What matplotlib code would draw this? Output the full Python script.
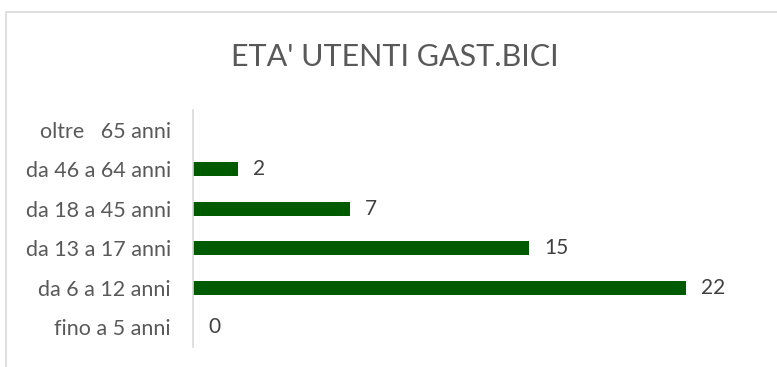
import numpy as np
import matplotlib.pyplot as plt
from matplotlib.patches import Rectangle

categories = ["fino a 5 anni", "da 6 a 12 anni", "da 13 a 17 anni",
              "da 18 a 45 anni", "da 46 a 64 anni", "oltre   65 anni"]
values = [0, 22, 15, 7, 2, np.nan]
title = "ETA' UTENTI GAST.BICI"

plt.rcParams['font.family'] = ['Lato', 'DejaVu Sans']

fig = plt.figure(figsize=(7.77, 3.67), dpi=100)
fig.patch.set_facecolor('white')

# chart frame
fig.patches.append(Rectangle((6 / 777, -0.05), 1.0, 1 - 12 / 367 + 0.05,
                             transform=fig.transFigure, fill=False,
                             edgecolor='#d9d9d9', linewidth=1.2, clip_on=False))

ax = fig.add_axes([193 / 777, 1 - 347 / 367, (753 - 193) / 777, (347 - 110) / 367])

y = np.arange(len(categories))
vals = np.array(values, dtype=float)
ax.barh(y, np.nan_to_num(vals), height=0.36, color='#005a00')

for yi, v in zip(y, vals):
    if np.isnan(v):
        continue
    ax.annotate(f"{int(v)}", xy=(v, yi), xytext=(11, 0), textcoords='offset points',
                ha='left', va='center', fontsize=15, color='#404040')

ax.set_xlim(0, 25)
ax.set_ylim(-0.5, len(categories) - 0.5)
ax.set_yticks(y)
ax.set_yticklabels(categories, fontsize=15.5, color='#595959')
ax.tick_params(axis='y', length=0, pad=16)
ax.set_xticks([])
for side in ['top', 'right', 'bottom']:
    ax.spines[side].set_visible(False)
ax.spines['left'].set_color('#d9d9d9')
ax.spines['left'].set_linewidth(1.2)

fig.text(395 / 777, 1 - 57 / 367, title, ha='center', va='center',
         fontsize=22, color='#595959')

fig.savefig('out.png', dpi=100)
